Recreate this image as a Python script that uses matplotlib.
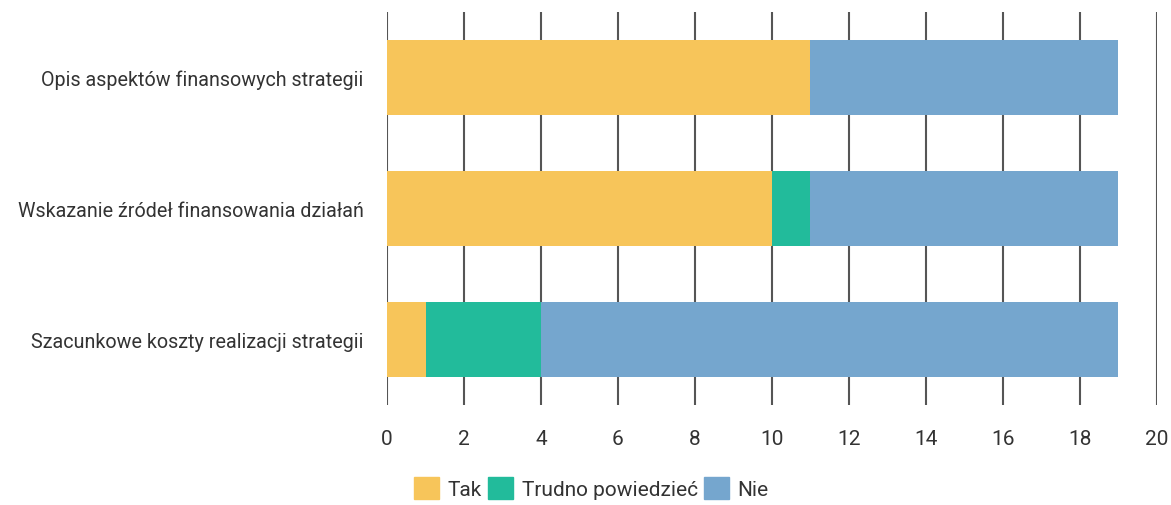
import matplotlib.pyplot as plt
from matplotlib.patches import Patch

categories = ['Opis aspektów finansowych strategii',
              'Wskazanie źródeł finansowania działań',
              'Szacunkowe koszty realizacji strategii']
tak = [11, 10, 1]
trudno = [0, 1, 3]
nie = [8, 8, 15]

series_names = ['Tak', 'Trudno powiedzieć', 'Nie']
colors = ['#F7C55A', '#22BB9B', '#75A6CE']
xticks = [0, 2, 4, 6, 8, 10, 12, 14, 16, 18, 20]

plt.rcParams['font.family'] = ['Roboto', 'DejaVu Sans']

fig = plt.figure(figsize=(11.71, 5.06), dpi=100)
ax = fig.add_axes([0.3305, 0.1976, 0.6575, 0.7767])

y = list(range(len(categories)))
left = [0] * len(categories)
for vals, col in zip([tak, trudno, nie], colors):
    ax.barh(y, vals, left=left, height=0.57, color=col, zorder=2)
    left = [a + b for a, b in zip(left, vals)]

ax.set_xlim(0, 20)
ax.set_ylim(2.5, -0.5)
ax.set_xticks(xticks)
ax.set_yticks(y)
ax.set_yticklabels(categories)
ax.grid(axis='x', color='#555555', linewidth=1.5, zorder=0)
for s in ax.spines.values():
    s.set_visible(False)
ax.tick_params(axis='x', length=0, pad=17, labelsize=15, labelcolor='#333333')
ax.tick_params(axis='y', length=0, pad=17, labelsize=14.2, labelcolor='#333333')

handles = [Patch(color=c) for c in colors]
fig.legend(handles, series_names, loc='lower center', bbox_to_anchor=(0.505, -0.025),
           ncol=3, frameon=False, fontsize=15, handlelength=1.2, handleheight=1.2,
           handletextpad=0.4, columnspacing=0.3, labelcolor='#333333')

fig.savefig('out.png', dpi=100)
